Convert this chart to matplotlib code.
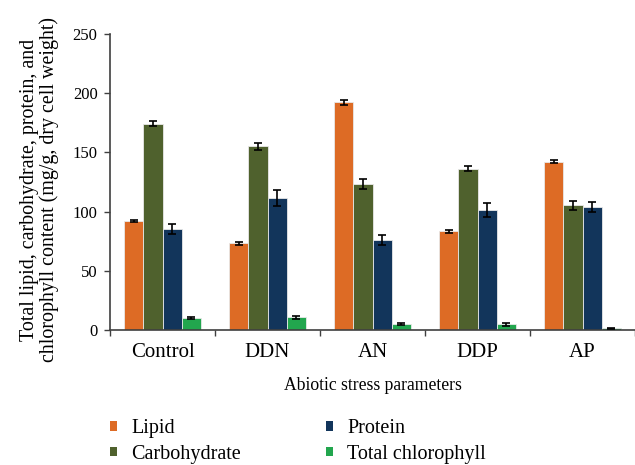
import matplotlib.pyplot as plt
import numpy as np
from matplotlib.patches import Patch

plt.rcParams['font.family'] = ['Liberation Serif', 'DejaVu Serif']

categories = ["Control", "DDN", "AN", "DDP", "AP"]
series = ["Lipid", "Carbohydrate", "Protein", "Total chlorophyll"]
colors = ["#DD6B25", "#4F612D", "#12355B", "#22A64E"]

lipid = [91.8, 73.2, 192.3, 83.3, 142.2]
lipid_err = [1.0, 1.0, 2.0, 1.5, 1.5]
carbohydrate = [174.3, 155.1, 123.3, 136.3, 105.3]
carbohydrate_err = [2.0, 3.0, 4.0, 2.0, 4.0]
protein = [85.3, 111.5, 76.0, 101.1, 103.9]
protein_err = [4.0, 7.0, 4.0, 6.0, 4.0]
chlorophyll = [9.9, 10.7, 4.8, 4.8, 1.4]
chlorophyll_err = [1.0, 1.0, 0.8, 1.5, 0.5]

values = [lipid, carbohydrate, protein, chlorophyll]
errors = [lipid_err, carbohydrate_err, protein_err, chlorophyll_err]

fig = plt.figure(figsize=(6.35, 4.65), dpi=100)
ax = fig.add_axes([110 / 635, 1 - 330 / 465, 1 - 110 / 635, 296 / 465])

x = np.arange(len(categories))
w = 0.181
for i, (vals, errs) in enumerate(zip(values, errors)):
    pos = x + (i - 1.5) * w
    ax.bar(pos, vals, width=w, color=colors[i], edgecolor="#e8e8e8", linewidth=0.6, zorder=2)
    ax.errorbar(pos, vals, yerr=errs, fmt="none", ecolor="black", elinewidth=1.2,
                capsize=3, capthick=1.2, zorder=3)

ax.set_xlim(-0.5, len(categories) - 0.5)
ax.set_ylim(0, 250)
ax.set_yticks([0, 50, 100, 150, 200, 250])
ax.set_xticks(x)
ax.set_xticklabels(categories, fontsize=15)
ax.set_xticks(np.arange(-0.5, len(categories)), minor=True)
ax.tick_params(axis="x", which="major", length=0, pad=9)
ax.tick_params(axis="x", which="minor", length=4, width=1, color="#404040", direction="out")
ax.tick_params(axis="y", labelsize=12, length=4, width=1, color="#404040", pad=5)
for side in ["top", "right"]:
    ax.spines[side].set_visible(False)
for side in ["left", "bottom"]:
    ax.spines[side].set_color("#404040")
    ax.spines[side].set_linewidth(1.2)

ax.set_xlabel("Abiotic stress parameters", fontsize=12.7, labelpad=11)
ax.set_ylabel("Total lipid, carbohydrate, protein, and\nchlorophyll content (mg/g, dry cell weight)",
              fontsize=14.4, linespacing=1.05)
ax.yaxis.set_label_coords(-51 / 525, 0.473)

handles = [Patch(facecolor=c, edgecolor="none") for c in colors]
common = dict(loc="upper left", frameon=False, fontsize=14.5, borderpad=0, borderaxespad=0,
              handlelength=0.35, handleheight=0.35, handletextpad=0.7, labelspacing=0.34)
fig.legend(handles[:2], series[:2], bbox_to_anchor=(110 / 635, 1 - 419 / 465), **common)
fig.legend(handles[2:], series[2:], bbox_to_anchor=(326 / 635, 1 - 419 / 465), **common)

fig.savefig("out.png", dpi=100)
